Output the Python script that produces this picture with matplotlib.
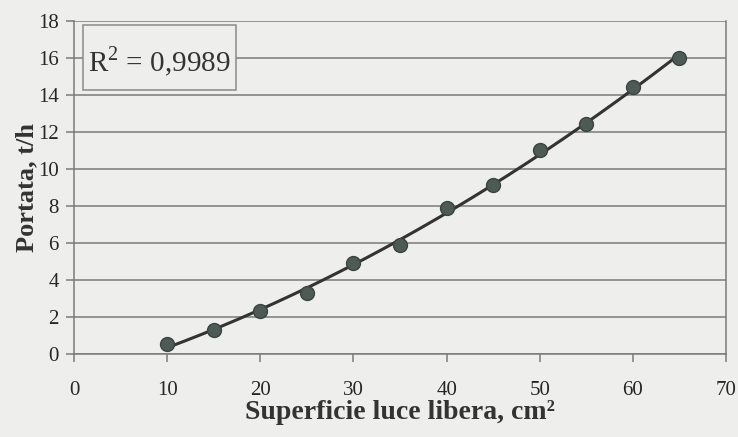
import numpy as np
import matplotlib.pyplot as plt
from matplotlib.patches import Rectangle

# data
superficie = [10, 15, 20, 25, 30, 35, 40, 45, 50, 55, 60, 65]
portata = [0.5, 1.3, 2.3, 3.3, 4.9, 5.9, 7.9, 9.1, 11.0, 12.4, 14.4, 16.0]
x_ticks = [0, 10, 20, 30, 40, 50, 60, 70]
y_ticks = [0, 2, 4, 6, 8, 10, 12, 14, 16, 18]
r2_label = "R$^2$ = 0,9989"

bg = "#eeeeec"
plt.rcParams['font.family'] = ['Liberation Serif', 'DejaVu Serif']
plt.rcParams['mathtext.fontset'] = 'custom'
plt.rcParams['mathtext.rm'] = 'Liberation Serif'

fig = plt.figure(figsize=(7.38, 4.37), dpi=100, facecolor=bg)
ax = fig.add_axes([0.1003, 0.1906, 0.8834, 0.762])
ax.set_facecolor(bg)

# second order trend line through the points
coef = np.polyfit(superficie, portata, 2)
xs = np.linspace(superficie[0], superficie[-1], 200)
ax.plot(xs, np.polyval(coef, xs), color="#333333", lw=2.2, zorder=3)
ax.plot(superficie, portata, "o", ms=10, mfc="#4d5a56", mec="#3a4440", mew=1, zorder=4)

ax.set_xlim(0, 70)
ax.set_ylim(0, 18)
ax.set_xticks(x_ticks)
ax.set_yticks(y_ticks)
ax.yaxis.grid(True, color="#7a7a7a", lw=1.1)
ax.set_axisbelow(True)

for s in ["left", "bottom", "right"]:
    ax.spines[s].set_color("#7a7a7a")
    ax.spines[s].set_linewidth(1.1)
ax.spines["top"].set_visible(False)

ax.tick_params(axis="both", direction="out", length=6, width=1.1, color="#7a7a7a",
               labelsize=15, labelcolor="#262626")
ax.tick_params(axis="x", pad=14)
ax.tick_params(axis="y", pad=5)

ax.set_xlabel("Superficie luce libera, cm²", fontsize=20, fontweight="bold", color="#333333", labelpad=0)
ax.set_ylabel("Portata, t/h", fontsize=19, fontweight="bold", color="#333333", labelpad=0)

# R² box
ax.add_patch(Rectangle((0.0138, 0.792), 0.2347, 0.195, transform=ax.transAxes,
                       fc=bg, ec="#8a8a8a", lw=1.1, zorder=5))
ax.text(0.131, 0.876, r2_label, transform=ax.transAxes, fontsize=21, color="#333333",
        va="center", ha="center", zorder=6)

fig.savefig("out.png", dpi=100, facecolor=bg)
